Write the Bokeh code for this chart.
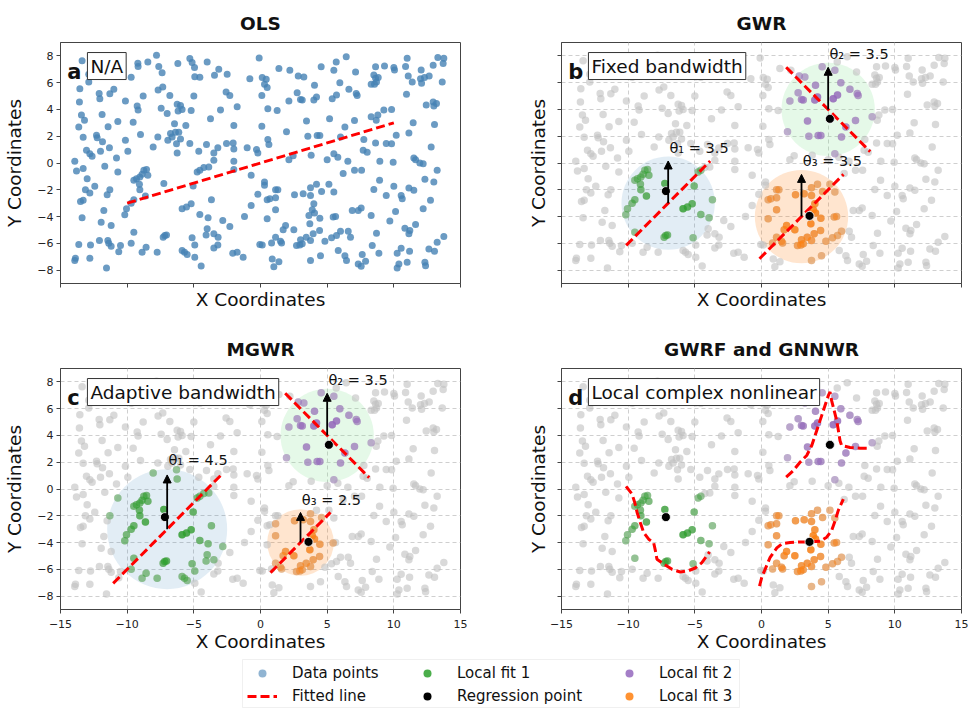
import numpy as np
from bokeh.plotting import figure
from bokeh.models import (FixedTicker, Label, Arrow, NormalHead, Legend, LegendItem,
                          Range1d, BoxAnnotation, ColumnDataSource, CustomLabelingPolicy)
from bokeh.core.properties import value
from bokeh.layouts import column, row
from bokeh.embed import file_html
from bokeh.resources import INLINE

FONT = "DejaVu Sans"

# Sample locations (x, y), grouped by quadrant of the study area
nw_pts = [(-10.63, 7.88), (-12.88, 6.63), (-13.38, 7.63), (-7.8, 8.05), (-9.2, 7.45), (-9.18, 7.2),
          (-8.45, 7.55), (-7.63, 7.2), (-7.38, 6.75), (-6.2, 7.43), (-5.3, 7.8), (-5.13, 7.5),
          (-4.95, 7.13), (-4.0, 7.55), (-3.13, 7.0), (-3.45, 6.55), (-2.5, 6.63), (-0.1, 7.85),
          (-9.7, 6.4), (-4.93, 6.45), (-4.55, 6.4), (-0.8, 6.3), (-12.88, 6.05), (-13.55, 5.55),
          (-11.0, 5.5), (-11.3, 5.18), (-12.1, 5.2), (-12.05, 4.8), (-7.68, 5.45), (-7.33, 5.68),
          (-8.8, 5.0), (-6.8, 5.05), (-5.0, 5.0), (-2.58, 5.3), (-2.3, 5.05), (0.1, 5.05),
          (-10.13, 4.63), (-13.58, 4.55), (-9.25, 4.25), (-9.18, 3.95), (-6.25, 4.38), (-6.0, 4.3),
          (-6.18, 3.88), (-5.88, 4.0), (-7.45, 4.08), (-7.0, 3.7), (-5.2, 3.93), (-3.0, 3.95),
          (-1.75, 4.2), (-13.43, 3.58), (-13.2, 3.2), (-11.88, 3.63), (-9.55, 3.05), (-10.7, 3.1),
          (-6.45, 2.93), (-5.6, 2.8), (-3.75, 3.3), (-2.0, 2.8), (-13.63, 2.68), (-11.43, 2.7),
          (-9.0, 2.13), (-6.75, 2.2), (-6.38, 2.3), (-6.13, 2.3), (-6.63, 1.95), (-6.95, 1.7),
          (-6.0, 1.8), (-6.3, 1.43), (-7.7, 1.95), (-13.3, 1.93), (-12.3, 2.08), (-12.25, 1.88),
          (-11.85, 1.58), (-10.13, 1.7), (-5.3, 1.45), (-4.05, 1.38), (-3.2, 1.13), (-3.5, 0.75),
          (-2.55, 1.45), (-2.05, 1.5), (-2.0, 1.05), (-1.0, 1.13), (-0.3, 1.0), (-0.2, 0.75),
          (-13.05, 0.95), (-12.8, 0.7), (-12.63, 0.5), (-12.0, 0.88), (-11.33, 1.13), (-9.95, 0.88),
          (-8.05, 1.2), (-6.25, 0.75), (-4.63, 0.88), (-3.5, 0.2), (-13.93, 0.13), (-10.8, 0.38),
          (-2.0, 0.13)]

ne_pts = [(0.13, 6.38), (0.43, 6.25), (0.3, 5.88), (0.5, 5.63), (1.38, 7.05), (2.2, 6.93),
          (2.83, 6.5), (3.25, 6.43), (4.55, 7.18), (5.5, 6.93), (5.68, 7.55), (6.43, 7.93),
          (7.13, 6.8), (5.95, 6.0), (4.05, 5.8), (2.75, 5.25), (3.13, 4.7), (3.0, 4.75),
          (2.13, 4.63), (4.0, 4.7), (4.2, 4.93), (5.38, 4.8), (5.7, 5.08), (6.63, 5.5),
          (7.18, 5.2), (7.25, 5.05), (0.55, 4.05), (1.25, 3.93), (8.63, 7.18), (9.3, 7.25),
          (10.0, 7.13), (10.05, 6.95), (10.88, 7.2), (11.0, 7.83), (12.05, 6.95), (12.95, 7.3),
          (13.3, 7.88), (13.75, 7.83), (13.7, 7.43), (8.5, 6.58), (8.83, 6.38), (8.63, 6.33),
          (8.3, 5.88), (8.55, 5.88), (8.7, 6.05), (11.08, 6.5), (11.38, 6.05), (12.0, 6.3),
          (12.08, 5.95), (12.3, 6.38), (12.65, 6.5), (13.63, 6.05), (10.95, 5.13), (12.43, 4.33),
          (12.95, 4.55), (13.0, 4.25), (13.2, 4.45), (13.05, 2.88), (11.45, 3.0), (11.13, 2.25),
          (10.18, 2.08), (9.83, 4.0), (9.25, 3.95), (8.8, 3.58), (8.3, 3.45), (8.68, 3.2),
          (7.05, 3.18), (6.33, 2.68), (5.18, 3.3), (3.45, 3.13), (1.95, 2.33), (0.1, 2.75),
          (0.55, 1.75), (0.63, 1.38), (3.55, 2.0), (4.25, 2.05), (4.45, 2.05), (6.0, 1.95),
          (7.75, 1.75), (8.63, 1.5), (9.43, 1.45), (9.83, 1.43), (7.7, 0.95), (8.0, 0.8),
          (5.5, 0.7), (5.8, 0.43), (3.8, 0.58), (2.45, 0.55), (2.13, 0.25), (5.0, 0.25),
          (6.55, 0.13), (8.95, 0.13), (9.95, 0.05), (12.8, 1.2), (11.5, 0.38), (11.63, 0.25),
          (11.95, 0.0), (12.2, -0.05)]

sw_pts = [(-13.8, -0.59), (-13.3, -0.42), (-11.68, -0.24), (-10.7, -0.67), (-13.0, -1.17),
          (-12.43, -1.74), (-13.13, -1.99), (-12.8, -2.24), (-13.3, -2.79), (-13.5, -2.87),
          (-11.3, -1.99), (-11.5, -2.37), (-9.5, -1.29), (-9.3, -1.17), (-9.05, -1.04),
          (-8.88, -0.84), (-8.75, -0.54), (-8.55, -0.49), (-8.45, -0.92), (-9.08, -1.59),
          (-9.05, -1.99), (-7.25, -1.54), (-8.63, -2.47), (-9.5, -2.75), (-9.7, -3.0),
          (-10.05, -3.42), (-10.18, -3.87), (-11.75, -3.54), (-13.38, -4.09), (-11.95, -4.42),
          (-11.2, -4.67), (-9.5, -5.17), (-13.63, -6.09), (-12.75, -6.12), (-12.08, -5.79),
          (-11.45, -5.79), (-11.38, -5.99), (-11.2, -6.22), (-10.5, -6.17), (-10.63, -6.62),
          (-9.7, -5.99), (-8.88, -6.67), (-8.58, -6.29), (-7.75, -6.67), (-7.3, -5.54),
          (-7.18, -5.42), (-7.05, -5.37), (-13.88, -7.12), (-13.93, -7.29), (-12.8, -7.12),
          (-11.55, -7.84), (-5.88, -3.42), (-5.55, -3.29), (-5.2, -3.04), (-5.05, -1.72),
          (-4.75, -0.67), (-4.55, -0.54), (-4.25, -0.34), (-3.88, -0.29), (-4.55, -3.84),
          (-3.93, -4.09), (-3.68, -2.74), (-2.83, -4.29), (-2.3, -4.74), (-1.2, -3.99),
          (-0.7, -3.17), (-0.2, -2.34), (-0.7, -0.92), (-2.0, -0.49), (-4.0, -4.92),
          (-3.5, -5.29), (-4.08, -5.37), (-3.18, -5.54), (-3.2, -6.12), (-3.5, -6.34),
          (-5.13, -5.59), (-4.93, -6.12), (-5.88, -6.54), (-5.7, -6.67), (-5.5, -6.84),
          (-4.93, -7.04), (-4.45, -7.69), (-2.08, -6.74), (-1.75, -6.67), (-1.3, -7.04),
          (-0.05, -6.09)]

se_pts = [(0.3, -1.42), (0.3, -1.67), (1.13, -1.99), (1.3, -1.99), (0.5, -2.74), (0.7, -2.67),
          (1.13, -2.59), (1.13, -3.49), (0.5, -4.17), (0.13, -6.12), (1.88, -4.67), (1.7, -4.99),
          (2.5, -4.99), (1.13, -5.54), (0.83, -5.97), (1.5, -5.84), (1.58, -5.97), (2.7, -6.17),
          (3.0, -5.74), (2.95, -6.12), (3.13, -6.04), (3.43, -5.54), (3.75, -5.79), (3.95, -5.29),
          (4.43, -5.04), (3.7, -4.54), (4.05, -3.74), (4.45, -4.12), (3.63, -3.92), (3.88, -3.49),
          (4.0, -3.04), (3.75, -2.42), (3.2, -2.29), (2.55, -2.37), (3.75, -1.84), (4.2, -1.59),
          (4.58, -2.12), (5.13, -1.59), (5.5, -2.17), (6.2, -0.79), (7.05, -0.54), (7.58, -0.54),
          (5.45, -4.04), (5.63, -3.99), (4.83, -5.84), (5.33, -5.59), (5.7, -5.42), (6.0, -5.09),
          (6.58, -5.09), (6.75, -5.54), (5.83, -6.54), (6.33, -6.92), (6.45, -7.29), (4.5, -6.92),
          (3.75, -7.29), (0.88, -7.17), (1.38, -7.37), (1.0, -7.74), (6.88, -3.54), (7.33, -3.54),
          (7.55, -3.37), (8.3, -3.92), (8.5, -1.97), (8.93, -1.29), (9.43, -2.42), (10.0, -1.74),
          (10.55, -2.42), (10.63, -2.67), (11.13, -1.87), (11.5, -2.04), (12.33, -1.22),
          (13.0, -1.42), (13.25, -0.54), (12.75, -2.79), (12.2, -3.42), (10.13, -3.62),
          (9.7, -4.34), (8.7, -5.24), (7.63, -6.84), (7.33, -7.54), (7.55, -7.72), (7.88, -7.34),
          (8.38, -6.17), (8.88, -6.74), (10.25, -6.74), (10.55, -6.37), (11.18, -6.59),
          (11.0, -7.42), (10.38, -7.54), (10.25, -7.84), (10.83, -4.87), (11.2, -5.04),
          (11.13, -5.29), (11.63, -4.59), (12.63, -6.42), (13.05, -6.59), (13.25, -5.92),
          (13.75, -5.49), (12.33, -7.42), (12.38, -7.67)]

# Axis ticks
x_ticks = [-15, -10, -5, 0, 5, 10, 15]
x_tick_labels = ["\u221215", "\u221210", "\u22125", "0", "5", "10", "15"]
y_ticks = [-8, -6, -4, -2, 0, 2, 4, 6, 8]
y_tick_labels = ["\u22128", "\u22126", "\u22124", "\u22122", "0", "2", "4", "6", "8"]

# Global OLS fit
ols_x = [-10.0, 10.0]
ols_y = [-3.0, 3.0]

# Local neighbourhoods: kernel centre, local slope sign, bandwidths
kernel_cx = [-7.0, 5.0, 3.0]
kernel_cy = [-3.0, 4.0, -4.0]
kernel_slope = [1.0, -1.0, 1.0]
bw_fixed = [3.5, 3.5, 3.5]
bw_adaptive = [4.5, 3.5, 2.5]

# Regression points
reg_x = [-7.17, 5.13, 3.6]
reg_y = [-2.1, 3.3, -3.95]

# Local complex nonlinear fits
nl1_x = [-10.16, -9.71, -9.51, -9.33, -9.09, -8.84, -8.46, -8.09, -7.96, -7.84, -7.34, -6.71,
         -6.09, -5.47, -4.97, -4.47, -3.89]
nl1_y = [0.2, -0.38, -1.0, -1.75, -2.5, -3.25, -3.75, -4.0, -4.6, -5.25, -5.6, -6.0, -6.2, -6.1,
         -5.9, -5.5, -4.7]
nl2_x = [1.85, 2.39, 2.89, 3.39, 3.77, 4.02, 4.27, 4.52, 4.77, 5.02, 5.14, 5.26, 5.44, 5.64, 5.76,
         5.89, 6.01, 6.64, 7.39, 8.13]
nl2_y = [0.88, 1.38, 2.0, 2.5, 3.25, 4.0, 4.75, 5.5, 6.25, 7.0, 7.25, 6.6, 5.9, 5.1, 4.4, 3.6,
         3.25, 3.1, 3.05, 3.05]
nl3_x = [-0.15, 0.02, 0.27, 0.65, 1.15, 1.52, 2.14, 2.89, 3.64, 4.39, 4.89, 5.26, 5.51, 5.76, 6.14]
nl3_y = [-7.25, -6.6, -6.0, -5.1, -4.4, -4.1, -4.0, -3.95, -3.95, -3.9, -3.6, -3.1, -2.4, -1.6,
         -0.75]

LOCAL_COLORS = ["#2ca02c", "#9467bd", "#ff7f0e"]
ZONE_COLORS = ["#1f77b4", "#7fe08a", "#ff7f0e"]
ZONE_ALPHAS = [0.13, 0.2, 0.2]
RED = "#ff0000"
DASH = "9 4"
AX = "#444444"
INK = "#111111"

pts = nw_pts + ne_pts + sw_pts + se_pts
px = np.array([p[0] for p in pts])
py = np.array([p[1] for p in pts])

# shared axes show ticks only; their labels are left out
HIDE_LABELS = "return new Set()"


def make_panel(title, letter, note, xlabels, ylabels, grid, left, right, top, bottom):
    p = figure(title=title, frame_width=400, frame_height=241,
               x_range=Range1d(-15, 15), y_range=Range1d(-9, 9),
               min_border_left=left, min_border_right=right,
               min_border_top=top, min_border_bottom=bottom,
               toolbar_location=None, output_backend="svg")
    p.title.align = "center"
    p.title.text_font = FONT
    p.title.text_font_size = "18.5px"
    p.title.text_font_style = "bold"
    p.title.text_color = INK
    p.title.standoff = 17
    p.outline_line_color = AX
    p.outline_line_width = 1
    p.outline_line_alpha = 1

    p.xaxis.ticker = FixedTicker(ticks=x_ticks)
    p.yaxis.ticker = FixedTicker(ticks=y_ticks)
    p.xaxis.major_label_overrides = dict(zip(x_ticks, x_tick_labels))
    p.yaxis.major_label_overrides = dict(zip(y_ticks, y_tick_labels))
    p.xaxis.axis_label = "X Coordinates"
    p.yaxis.axis_label = "Y Coordinates"
    for ax in (p.xaxis, p.yaxis):
        ax.axis_line_color = AX
        ax.major_tick_line_color = AX
        ax.major_tick_out = 4
        ax.major_tick_in = 0
        ax.minor_tick_line_color = None
        ax.axis_label_text_font = FONT
        ax.axis_label_text_font_size = "18.5px"
        ax.axis_label_text_font_style = "normal"
        ax.axis_label_text_color = INK
        ax.major_label_text_font = FONT
        ax.major_label_text_font_size = "11px"
        ax.major_label_text_color = "#222222"
        ax.major_label_standoff = 3
    if xlabels:
        p.xaxis.major_label_standoff = 6
        p.xaxis.axis_label_standoff = 0
    else:
        p.xaxis.major_label_policy = CustomLabelingPolicy(code=HIDE_LABELS)
        p.xaxis.major_label_text_font_size = "1px"
        p.xaxis.major_label_standoff = 0
        p.xaxis.axis_label_standoff = -3
    if ylabels:
        p.yaxis.axis_label_standoff = 9
    else:
        p.yaxis.major_label_policy = CustomLabelingPolicy(code=HIDE_LABELS)
        p.yaxis.major_label_text_font_size = "1px"
        p.yaxis.major_label_standoff = 0
        p.yaxis.axis_label_standoff = 4

    if grid:
        p.grid.grid_line_color = "#cfcfcf"
        p.grid.grid_line_dash = "4 3"
        p.grid.grid_line_width = 1
    else:
        p.grid.visible = False

    p.add_layout(Label(x=-14.5, y=6.83, text=letter, text_font=FONT, text_font_size="21px",
                       text_font_style="bold", text_baseline="alphabetic", text_color=INK))
    p.add_layout(Label(x=-12.98, y=8.25, text=note, text_font=FONT, text_font_size="18.5px",
                       text_baseline="top", text_align="left", text_color=INK,
                       background_fill_color="white", background_fill_alpha=1,
                       border_line_color="#333333", border_line_width=1, padding=3))
    return p


def local_subset(i, bw):
    d = np.hypot(px - kernel_cx[i], py - kernel_cy[i])
    m = d <= bw
    w = 0.3 + 0.6 * np.exp(-2.0 * (d[m] / bw) ** 2)
    return ColumnDataSource(data=dict(x=px[m], y=py[m], a=w))


def draw_local(p, bws, with_zones):
    if with_zones:
        p.circle(x=kernel_cx, y=kernel_cy, radius=bws, fill_color=ZONE_COLORS,
                 fill_alpha=ZONE_ALPHAS, line_color=None)
    p.scatter(x=px, y=py, size=7.5, fill_color="silver", fill_alpha=0.6, line_color=None)
    for i, bw in enumerate(bws):
        src = local_subset(i, bw)
        p.scatter(x="x", y="y", source=src, size=7.5, fill_color=LOCAL_COLORS[i],
                  fill_alpha="a", line_color=None)


def draw_linear(p, bws):
    for i, bw in enumerate(bws):
        xs = np.array([kernel_cx[i] - 0.9 * bw, kernel_cx[i] + 0.9 * bw])
        ys = kernel_cy[i] + kernel_slope[i] * (xs - kernel_cx[i])
        p.line(x=xs, y=ys, line_color=RED, line_width=3, line_dash=DASH)
    p.scatter(x=reg_x, y=reg_y, size=9, fill_color="black", line_color="white", line_width=0.8)
    arrow_src = ColumnDataSource(data=dict(
        x0=kernel_cx, y0=kernel_cy, x1=kernel_cx,
        y1=[cy + 0.9 * bw for cy, bw in zip(kernel_cy, bws)]))
    p.add_layout(Arrow(end=NormalHead(size=8, fill_color="black", line_color="black",
                                      line_width=1),
                       x_start="x0", y_start="y0", x_end="x1", y_end="y1",
                       line_color="black", line_width=1.8, source=arrow_src))
    subs = ["\u2081", "\u2082", "\u2083"]
    p.text(x=[cx + 0.1 for cx in kernel_cx],
           y=[cy + bw + 0.65 for cy, bw in zip(kernel_cy, bws)],
           text=[f"\u03b8{s} = {bw:g}" for s, bw in zip(subs, bws)],
           text_font=value(FONT), text_font_size="14.5px", text_baseline="middle",
           text_align="left", text_color=INK)


# (a) OLS: one global line
pa = make_panel("OLS", "a", "N/A", False, True, False, 60, 20, 42, 37)
pa.scatter(x=px, y=py, size=7, fill_color="steelblue", fill_alpha=0.8, line_color=None)
pa.line(x=ols_x, y=ols_y, line_color=RED, line_width=3, line_dash=DASH)

# (b) GWR with a fixed bandwidth
pb = make_panel("GWR", "b", "Fixed bandwidth", False, False, True, 81, 14, 42, 37)
draw_local(pb, bw_fixed, True)
draw_linear(pb, bw_fixed)

# (c) MGWR with adaptive bandwidths
pc = make_panel("MGWR", "c", "Adaptive bandwidth", True, True, True, 60, 20, 48, 45)
draw_local(pc, bw_adaptive, True)
draw_linear(pc, bw_adaptive)

# (d) GWRF / GNNWR: nonlinear local relationships
pd_ = make_panel("GWRF and GNNWR", "d", "Local complex nonlinear", True, False, True, 81, 14, 48, 45)
draw_local(pd_, bw_fixed, False)
for cx_, cy_ in ((nl1_x, nl1_y), (nl2_x, nl2_y), (nl3_x, nl3_y)):
    pd_.line(x=cx_, y=cy_, line_color=RED, line_width=3, line_dash=DASH)
pd_.scatter(x=reg_x, y=reg_y, size=9, fill_color="black", line_color="white", line_width=0.8)

# Shared legend strip; its swatch renderers sit outside the visible range
leg = figure(width=975, height=54, x_range=Range1d(0, 975), y_range=Range1d(54, 0),
             x_axis_location=None, y_axis_location=None, min_border=0,
             toolbar_location=None, output_backend="svg")
leg.outline_line_color = None
leg.grid.visible = False
leg.add_layout(BoxAnnotation(left=242, right=739, top=5, bottom=53, fill_alpha=0,
                             line_color="#cccccc", line_width=1))
off = dict(x=[-500, -400], y=[-500, -400])
r_data = leg.scatter(size=6, fill_color="steelblue", fill_alpha=0.6, line_color=None, **off)
r_line = leg.line(line_color=RED, line_width=3, line_dash=DASH, **off)
r_l1 = leg.scatter(size=7, fill_color=LOCAL_COLORS[0], fill_alpha=0.85, line_color=None, **off)
r_reg = leg.scatter(size=6, fill_color="black", line_color=None, **off)
r_l2 = leg.scatter(size=7, fill_color=LOCAL_COLORS[1], fill_alpha=0.85, line_color=None, **off)
r_l3 = leg.scatter(size=7, fill_color=LOCAL_COLORS[2], fill_alpha=0.85, line_color=None, **off)

legend_cols = [
    ([("Data points", r_data), ("Fitted line", r_line)], 247),
    ([("Local fit 1", r_l1), ("Regression point", r_reg)], 412),
    ([("Local fit 2", r_l2), ("Local fit 3", r_l3)], 614),
]
for entries, xpos in legend_cols:
    lg = Legend(items=[LegendItem(label=t, renderers=[r]) for t, r in entries],
                location=(xpos, 2), orientation="vertical", padding=0, margin=0, spacing=3,
                glyph_width=30, glyph_height=20, label_height=20, label_standoff=15,
                label_text_font=FONT, label_text_font_size="15px", label_text_color=INK,
                border_line_color=None, background_fill_alpha=0)
    leg.add_layout(lg)

layout = column(row(pa, pb), row(pc, pd_), leg)
open("out.html", "w").write(file_html(layout, INLINE))
